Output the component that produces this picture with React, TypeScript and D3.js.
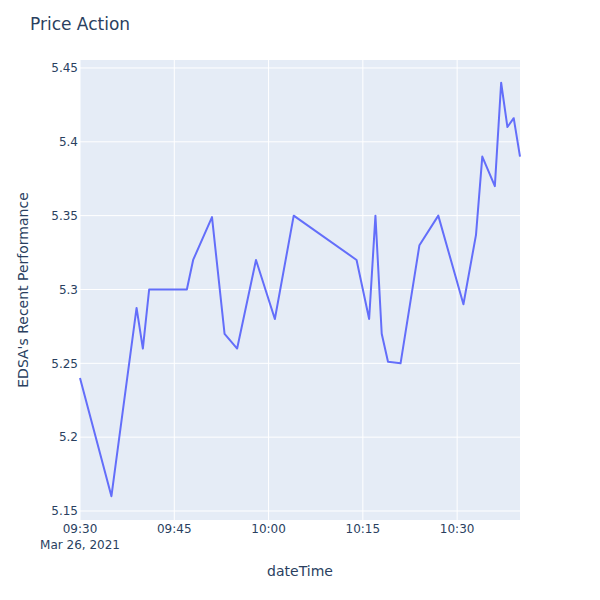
import React from "react";
import * as d3 from "d3";

const times = [
  "09:30", "09:35", "09:39", "09:40", "09:41", "09:47", "09:48", "09:51", "09:53", "09:55",
  "09:58", "10:01", "10:04", "10:14", "10:16", "10:17", "10:18", "10:19", "10:21", "10:24",
  "10:27", "10:31", "10:33", "10:34", "10:36", "10:37", "10:38", "10:39", "10:40",
];
const prices = [
  5.24, 5.16, 5.2875, 5.26, 5.3, 5.3, 5.32, 5.349, 5.27, 5.26,
  5.32, 5.28, 5.35, 5.32, 5.28, 5.35, 5.27, 5.251, 5.25, 5.33,
  5.35, 5.29, 5.337, 5.39, 5.37, 5.44, 5.41, 5.416, 5.39,
];
const yTicks = [5.15, 5.2, 5.25, 5.3, 5.35, 5.4, 5.45];
const xTickTimes = ["09:30", "09:45", "10:00", "10:15", "10:30"];

const parse = (t: string) => {
  const [h, m] = t.split(":").map(Number);
  return new Date(2021, 2, 26, h, m);
};

const W = 600, H = 600;
const L = 80, R = 520, T = 60, B = 520;
const textColor = "#2a3f5f";
const font = "'DejaVu Sans', verdana, sans-serif";

export default function App() {
  const data = times.map((t, i) => ({ d: parse(t), v: prices[i] }));
  const x = d3.scaleTime().domain(d3.extent(data, (p) => p.d) as [Date, Date]).range([L, R]);
  const y = d3.scaleLinear().domain([5.1439, 5.4554]).range([B, T]);
  const line = d3.line<{ d: Date; v: number }>().x((p) => x(p.d)).y((p) => y(p.v));
  const fmt = d3.timeFormat("%H:%M");

  return (
    <svg width={W} height={H} style={{ position: "absolute", left: 0, top: 0, background: "#fff" }}>
      <rect x={L} y={T} width={R - L} height={B - T} fill="#E5ECF6" />
      {yTicks.map((t) => (
        <g key={t}>
          <line x1={L} x2={R} y1={y(t)} y2={y(t)} stroke="#fff" strokeWidth={1} />
          <text x={L - 2} y={y(t)} dy="0.35em" textAnchor="end" fontSize={12} fill={textColor} fontFamily={font}>
            {String(t)}
          </text>
        </g>
      ))}
      {xTickTimes.map((t) => {
        const d = parse(t);
        return (
          <g key={t}>
            <line x1={x(d)} x2={x(d)} y1={T} y2={B} stroke="#fff" strokeWidth={1} />
            <text x={x(d)} y={B + 13} textAnchor="middle" fontSize={12} fill={textColor} fontFamily={font}>
              {fmt(d)}
            </text>
          </g>
        );
      })}
      <text x={x(parse("09:30"))} y={B + 29} textAnchor="middle" fontSize={12} fill={textColor} fontFamily={font}>
        Mar 26, 2021
      </text>
      <path d={line(data) ?? ""} fill="none" stroke="#636efa" strokeWidth={2} strokeLinejoin="round" />
      <text x={30} y={30} fontSize={17} fill={textColor} fontFamily={font}>
        Price Action
      </text>
      <text x={(L + R) / 2} y={576} textAnchor="middle" fontSize={14} fill={textColor} fontFamily={font}>
        dateTime
      </text>
      <text
        transform={`translate(28,${(T + B) / 2}) rotate(-90)`}
        textAnchor="middle"
        fontSize={14}
        fill={textColor}
        fontFamily={font}
      >
        EDSA's Recent Performance
      </text>
    </svg>
  );
}
